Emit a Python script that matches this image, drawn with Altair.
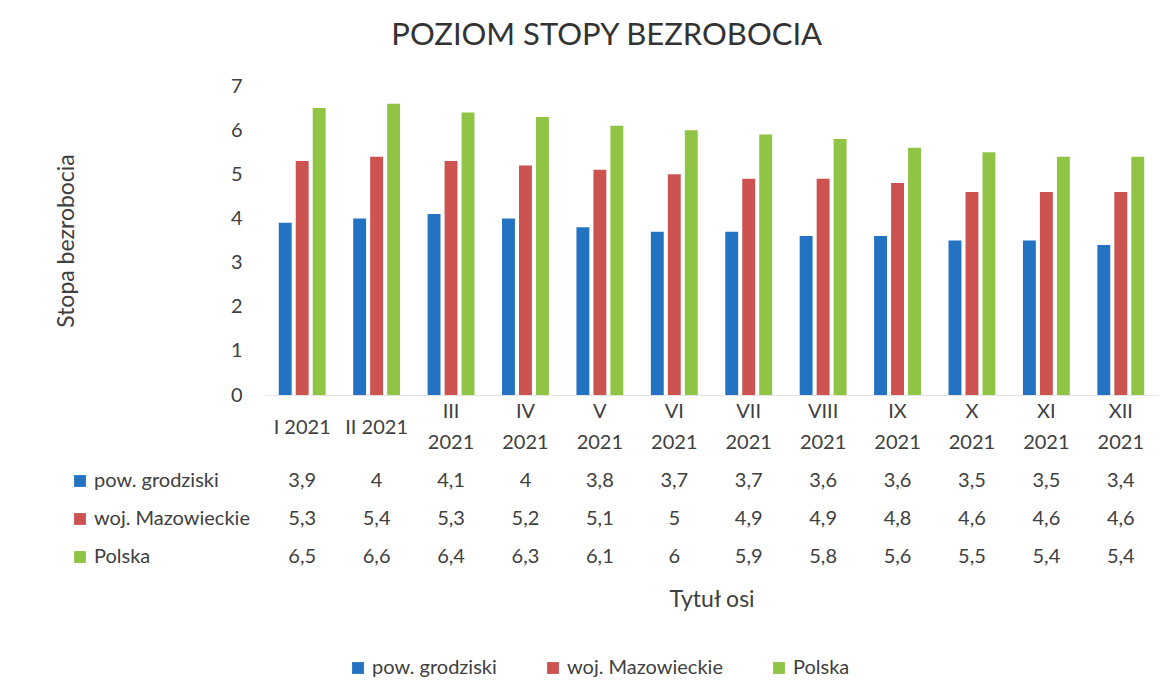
import altair as alt
import pandas as pd

months = ["I 2021", "II 2021", "III 2021", "IV 2021", "V 2021", "VI 2021",
          "VII 2021", "VIII 2021", "IX 2021", "X 2021", "XI 2021", "XII 2021"]
series = ["pow. grodziski", "woj. Mazowieckie", "Polska"]
pow_grodziski = [3.9, 4, 4.1, 4, 3.8, 3.7, 3.7, 3.6, 3.6, 3.5, 3.5, 3.4]
woj_mazowieckie = [5.3, 5.4, 5.3, 5.2, 5.1, 5, 4.9, 4.9, 4.8, 4.6, 4.6, 4.6]
polska = [6.5, 6.6, 6.4, 6.3, 6.1, 6, 5.9, 5.8, 5.6, 5.5, 5.4, 5.4]
colors = ["#2472C2", "#CC5350", "#8FC445"]

rows = []
for s, vals in zip(series, [pow_grodziski, woj_mazowieckie, polska]):
    for m, v in zip(months, vals):
        lab = (f"{v:g}").replace(".", ",")
        rows.append({"month": m, "series": s, "value": v, "label": lab})
df = pd.DataFrame(rows)
labels_df = pd.DataFrame({"series": series})

FONT = "Lato"
TXT = "#404040"
FS = 20
W = 893
single = "indexof(['I 2021','II 2021'], datum.label) >= 0"

color = alt.Color("series:N", scale=alt.Scale(domain=series, range=colors),
                  legend=alt.Legend(orient="none", direction="horizontal",
                                    legendX=83, legendY=572, title=None,
                                    symbolType="square", symbolSize=140,
                                    symbolStrokeWidth=0,
                                    labelFontSize=FS, labelFont=FONT,
                                    labelColor=TXT, columnPadding=46,
                                    labelOffset=4))

xscale = alt.Scale(domain=months, paddingInner=0.37, paddingOuter=0.185)

bars = alt.Chart(df).mark_bar().encode(
    x=alt.X("month:N", scale=xscale, sort=months,
            axis=alt.Axis(title=None, ticks=False, domainColor="#e3e3e3",
                          labelAngle=0, labelFontSize=FS, labelFont=FONT,
                          labelColor=TXT, labelBaseline="middle",
                          labelPadding={"condition": {"test": single, "value": 32}, "value": 16},
                          labelLineHeight=31,
                          labelExpr=single + " ? datum.label : split(datum.label, ' ')")),
    xOffset=alt.XOffset("series:N", sort=series,
                        scale=alt.Scale(paddingInner=0.24)),
    y=alt.Y("value:Q", scale=alt.Scale(domain=[0, 7]),
            axis=alt.Axis(title="Stopa bezrobocia", values=list(range(8)),
                          grid=False, ticks=False, domain=False,
                          labelFontSize=FS, labelFont=FONT, labelColor=TXT,
                          labelPadding=23, titleFontSize=23, titleFont=FONT,
                          titleFontWeight="normal", titleColor=TXT,
                          titlePadding=152)),
    color=color,
).properties(width=W, height=309)

yrow = alt.Y("series:N", sort=series, axis=None,
             scale=alt.Scale(domain=series, paddingInner=0, paddingOuter=0))
xrow = alt.X("month:N", scale=xscale, sort=months,
             axis=alt.Axis(title="Tytuł osi", labels=False, ticks=False,
                           domain=False, titleFontSize=23, titleFont=FONT,
                           titleFontWeight="normal", titleColor=TXT,
                           titlePadding=12))

table_vals = alt.Chart(df).mark_text(fontSize=FS, font=FONT, color=TXT).encode(
    x=xrow, y=yrow, text="label:N")
row_labels = alt.Chart(labels_df).mark_text(fontSize=FS, font=FONT, color=TXT,
                                            align="left").encode(
    x=alt.value(-171), y=yrow, text="series:N")
row_keys = alt.Chart(labels_df).mark_point(shape="square", filled=True, size=140,
                                           opacity=1).encode(
    x=alt.value(-185), y=yrow,
    color=alt.Color("series:N", scale=alt.Scale(domain=series, range=colors), legend=None))

table = alt.layer(table_vals, row_labels, row_keys).properties(width=W, height=114)

chart = alt.vconcat(bars, table, spacing=10).properties(
    title=alt.TitleParams("POZIOM STOPY BEZROBOCIA", fontSize=31, font=FONT,
                          fontWeight="normal", color="#333333",
                          anchor="middle", frame="bounds", offset=24),
    padding={"left": 47, "top": 12, "right": 5, "bottom": 5},
    background="white",
).configure_view(stroke="transparent", strokeWidth=0)

chart.save("out.html", embed_options={"renderer": "svg", "actions": False})
